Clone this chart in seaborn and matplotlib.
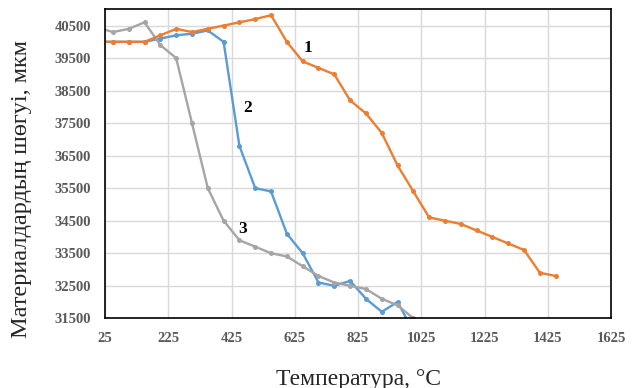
import matplotlib
matplotlib.use("Agg")
import matplotlib.pyplot as plt
import seaborn as sns

# temperature, °C
temp_1 = [0, 50, 100, 150, 200, 250, 300, 350, 400, 450, 500, 550, 600, 650, 700,
          750, 800, 850, 900, 950, 1000, 1050, 1100, 1150, 1200, 1250, 1300, 1350, 1400, 1450]
temp_23 = [0, 50, 100, 150, 200, 250, 300, 350, 400, 450, 500, 550, 600, 650, 700,
           750, 800, 850, 900, 950, 1000]

# shrinkage, мкм
shrink_1 = [40000, 40000, 40000, 40000, 40200, 40400, 40300, 40400, 40500, 40600, 40700, 40820,
            40000, 39400, 39200, 39000, 38200, 37800, 37200, 36200, 35400, 34600, 34500, 34400,
            34200, 34000, 33800, 33600, 32900, 32800]
shrink_2 = [40000, 40000, 40000, 40000, 40100, 40200, 40250, 40350, 40000, 36800, 35500, 35400,
            34100, 33500, 32600, 32500, 32650, 32100, 31700, 32000, 31100]
shrink_3 = [40450, 40300, 40400, 40600, 39900, 39500, 37500, 35500, 34500, 33900, 33700, 33500,
            33400, 33100, 32800, 32600, 32500, 32400, 32100, 31900, 31500]

x_ticks = [25, 225, 425, 625, 825, 1025, 1225, 1425, 1625]
y_ticks = [31500, 32500, 33500, 34500, 35500, 36500, 37500, 38500, 39500, 40500]

sns.set_theme(style="whitegrid")
plt.rcParams["font.family"] = ["Liberation Serif", "DejaVu Serif"]

fig = plt.figure(figsize=(6.38, 3.88), dpi=100)
ax = fig.add_axes([0.1646, 0.1797, 0.7931, 0.7963])
ax.set_facecolor("white")

line_kw = dict(marker="o", markersize=3.6, markeredgewidth=0, linewidth=1.7, ax=ax)
sns.lineplot(x=temp_23, y=shrink_2, color="#5B9BD5", **line_kw)
sns.lineplot(x=temp_23, y=shrink_3, color="#A5A5A5", **line_kw)
sns.lineplot(x=temp_1, y=shrink_1, color="#ED7D31", **line_kw)

ax.set_xlim(25, 1625)
ax.set_ylim(31500, 41000)
ax.set_xticks(x_ticks)
ax.set_yticks(y_ticks)
ax.set_xticklabels([str(v) for v in x_ticks])
ax.set_yticklabels([str(v) for v in y_ticks])
ax.tick_params(axis="both", length=0, labelsize=10.5, labelcolor="#595959")
ax.tick_params(axis="x", pad=10)
ax.tick_params(axis="y", pad=10)
for lbl in ax.get_xticklabels() + ax.get_yticklabels():
    lbl.set_fontweight("bold")

ax.grid(True, color="#d9d9d9", linewidth=1)
for s in ax.spines.values():
    s.set_visible(True)
    s.set_color("black")
    s.set_linewidth(1.2)

for txt, tx, ty in [("1", 667, 39824), ("2", 475, 37978), ("3", 460, 34245)]:
    ax.text(tx, ty, txt, fontsize=12.5, fontweight="bold", ha="center", va="center", color="black")

fig.text(358 / 638, 1 - 379 / 388, "Температура, °C", fontsize=17, ha="center", va="center")
fig.text(22 / 638, 1 - 188.5 / 388, "Материалдардың шөгуі, мкм", fontsize=17.5,
         rotation=90, ha="center", va="center")

fig.savefig("out.png", dpi=100)
